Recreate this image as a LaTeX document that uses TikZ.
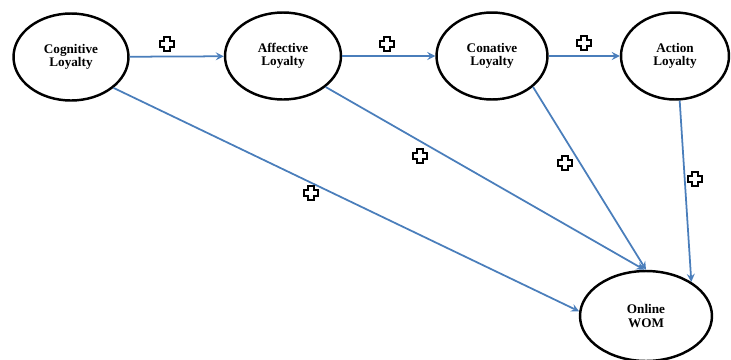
\documentclass[tikz,border=0pt]{standalone}
\usepackage{fontspec}
\setmainfont{Liberation Serif}
\usepackage{tikz}
\usetikzlibrary{shapes.geometric}
\definecolor{steel_blue}{HTML}{4A7EBB}

\tikzset{
  loyalty/.style={ellipse, draw=black, line width=1.4pt, fill=white,
    minimum width=2.3cm, minimum height=1.74cm, inner sep=0pt,
    align=center, font=\fontsize{7.5}{7.6}\selectfont\bfseries},
  lien/.style={->, steel_blue, line width=1pt},
  plussign/.pic={
    \draw[black, line width=1pt, fill=white]
      (-2.8,-7) -- (2.8,-7) -- (2.8,-2.8) -- (7,-2.8) -- (7,2.8) -- (2.8,2.8)
      -- (2.8,7) -- (-2.8,7) -- (-2.8,2.8) -- (-7,2.8) -- (-7,-2.8) -- (-2.8,-2.8) -- cycle;
  }
}

\begin{document}
\begin{tikzpicture}[x=0.02cm, y=-0.02cm, >=stealth]

    \useasboundingbox (0,0) rectangle (731,359);

    % Les cinq ellipses
    \node[loyalty] (cog) at (71,57) {Cognitive\\Loyalty};
    \node[loyalty, minimum width=2.32cm] (aff) at (283,56) {Affective\\Loyalty};
    \node[loyalty, minimum width=2.22cm] (con) at (492,56) {Conative\\Loyalty};
    \node[loyalty, minimum width=2.16cm] (act) at (675,56) {Action\\Loyalty};
    \node[loyalty, minimum width=2.64cm, minimum height=1.8cm] (wom) at (646,316) {Online\\WOM};

    % Les fleches entre les fidelites
    \draw[lien] (cog) -- (aff);
    \draw[lien] (aff) -- (con);
    \draw[lien] (con) -- (act);

    % Les fleches vers le bouche-a-oreille
    \draw[lien] (cog.-36) -- (wom.176);
    \draw[lien] (aff.-36) -- (wom.92);
    \draw[lien] (con.-37) -- (wom.90);
    \draw[lien] (act.-84) -- (wom.37);

    % Les signes plus
    \pic (p1) at (167,44) {plussign};
    \pic (p2) at (387,44) {plussign};
    \pic (p3) at (584,43) {plussign};
    \pic (p4) at (420,156) {plussign};
    \pic (p5) at (565,163) {plussign};
    \pic (p6) at (311,193) {plussign};
    \pic (p7) at (695,179) {plussign};
\end{tikzpicture}
\end{document}
